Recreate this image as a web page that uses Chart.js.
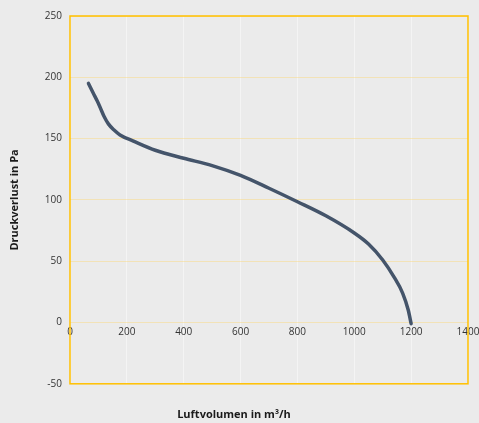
<!DOCTYPE html>
<html>
<head>
<meta charset="utf-8">
<script src="https://cdn.jsdelivr.net/npm/chart.js@4.4.0/dist/chart.umd.min.js"></script>
<style>
  html, body { margin: 0; padding: 0; background: #ebebeb; }
  #wrap { width: 479px; height: 423px; }
</style>
</head>
<body>
<div id="wrap"><canvas id="chart"></canvas></div>
<script>
// Kennlinie: Luftvolumen (m³/h) vs. Druckverlust (Pa)
const luftvolumen = [65, 82, 95, 105, 120, 135, 155, 176, 223, 300, 400, 500, 600, 700, 800, 900, 1000, 1050, 1100, 1140, 1170, 1190, 1200];
const druckverlust = [195, 187, 181, 176, 168, 162, 157, 153, 148, 140.5, 134, 128, 120, 109.5, 98.5, 87, 73, 64, 51, 37, 24, 10, -1];

const X_MIN = 0, X_MAX = 1400, X_STEP = 200;
const Y_MIN = -50, Y_MAX = 250, Y_STEP = 50;

const FONT = "'Open Sans', 'Liberation Sans', sans-serif";

const points = luftvolumen.map((v, i) => ({ x: v, y: druckverlust[i] }));

// gold frame round the plot area
const frame = {
  id: "frame",
  afterDraw(chart) {
    const a = chart.chartArea;
    const ctx = chart.ctx;
    ctx.save();
    ctx.strokeStyle = "#ffc000";
    ctx.lineWidth = 1.5;
    ctx.strokeRect(a.left, a.top, a.right - a.left, a.bottom - a.top);
    ctx.restore();
  }
};

new Chart(document.getElementById("chart"), {
  type: "scatter",
  data: {
    datasets: [{
      data: points,
      showLine: true,
      borderColor: "#44546a",
      borderWidth: 3.5,
      pointRadius: 0,
      tension: 0.4,
      cubicInterpolationMode: "monotone",
      borderCapStyle: "round"
    }]
  },
  options: {
    responsive: true,
    maintainAspectRatio: false,
    animation: false,
    layout: { padding: { top: 16, right: 11, left: 0, bottom: 0 } },
    plugins: {
      legend: { display: false },
      tooltip: { enabled: false },
      title: {
        display: true,
        position: "bottom",
        text: "Luftvolumen in m³/h",
        color: "#1a1a1a",
        font: { family: FONT, size: 11, weight: "bold" },
        padding: { top: 24, bottom: 2 }
      }
    },
    scales: {
      x: {
        type: "linear",
        position: { y: 0 },
        min: X_MIN,
        max: X_MAX,
        afterFit(scale) { scale.paddingRight = 0; scale.paddingLeft = 0; },
        ticks: {
          stepSize: X_STEP,
          color: "#333",
          padding: 4,
          font: { family: FONT, size: 10 },
          callback: (v) => String(v)
        },
        grid: { color: "rgba(255,255,255,0.45)", drawTicks: false },
        border: { display: false }
      },
      y: {
        min: Y_MIN,
        max: Y_MAX,
        afterFit(scale) { scale.width = 70; },
        ticks: {
          stepSize: Y_STEP,
          color: "#333",
          padding: 8,
          font: { family: FONT, size: 10 },
          callback: (v) => String(v)
        },
        grid: { color: "rgba(250,215,120,0.45)", drawTicks: false },
        border: { display: false },
        title: {
          display: true,
          text: "Druckverlust in Pa",
          color: "#1a1a1a",
          font: { family: FONT, size: 11, weight: "bold" },
          padding: { top: 8, bottom: 2 }
        }
      }
    }
  },
  plugins: [frame]
});
</script>
</body>
</html>
